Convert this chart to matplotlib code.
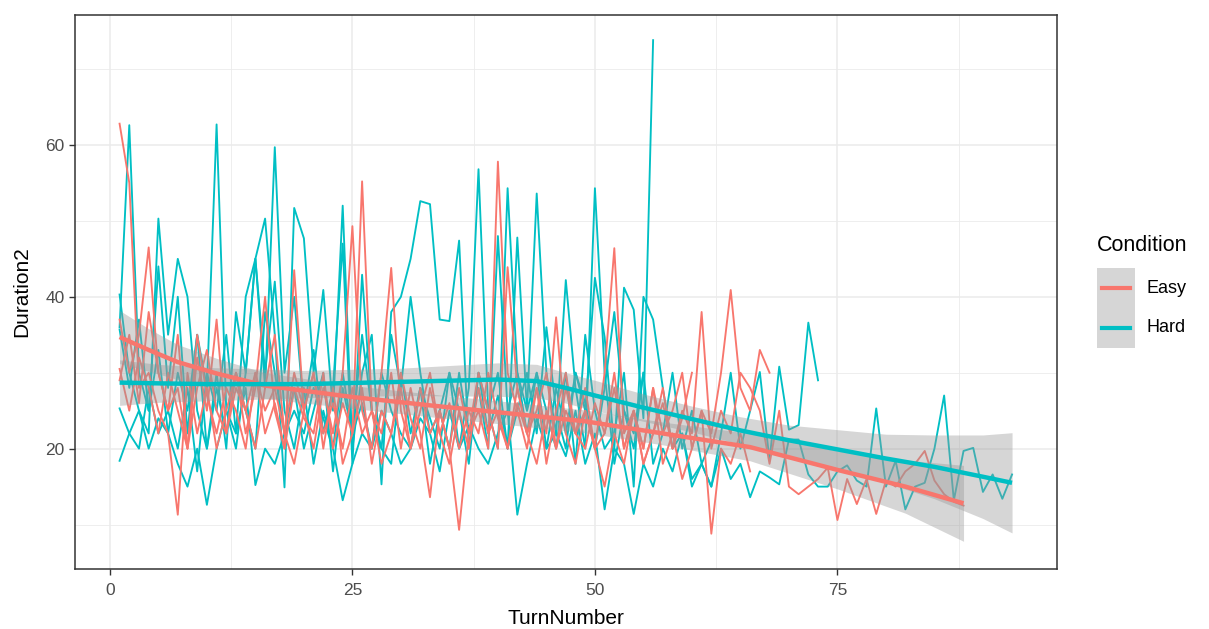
import matplotlib
matplotlib.use("Agg")
import matplotlib.pyplot as plt
import numpy as np

plt.rcParams['font.family'] = ['Liberation Sans', 'DejaVu Sans']

EASY = '#F8766D'
HARD = '#00BFC4'

# per-participant durations, turn number starts at 1
hard_1 = [36, 62.6, 30, 25, 44, 28, 40, 22, 35, 28, 62.7, 25, 20, 30, 45, 28, 59.7, 30, 40, 25,
          33, 22, 28, 47, 18, 42.9, 25, 20, 35, 28, 40, 30, 22, 25, 30, 20, 28, 56.8, 25, 30,
          20, 47.8, 25, 30, 20, 28, 22, 30, 25, 42.5, 34.7, 20, 41.2, 38.3, 24, 73.8]
hard_2 = [40.3, 30, 25, 22, 50.3, 35, 45, 40, 25, 20, 30, 20, 38, 30, 45, 50.3, 35, 14.9, 51.7, 47.7,
          30, 40.9, 25, 52, 20, 30, 35, 15.3, 38, 40, 45, 52.6, 52.2, 37, 36.8, 47.4, 20, 30, 25, 20,
          54.3, 30, 25, 53.6, 30, 22, 42.2, 28, 20, 54.3, 30, 18, 25, 20, 30, 18, 22, 30, 20, 25,
          18, 15, 22, 30, 20, 25, 30.1, 18.4, 30.8, 22.5, 23.1, 36.6, 29]
hard_3 = [18.4, 22, 25, 20, 24, 22, 18, 15, 20, 12.6, 20, 25, 22, 28, 15.2, 20, 18, 22, 25, 22,
          28, 24, 20, 13.2, 18, 22, 20, 25, 22, 18, 20, 24, 22, 17, 25, 20, 23, 20, 18, 22,
          25, 11.3, 18, 24, 20, 22, 19, 25, 18, 22, 12, 20, 18, 11.4, 18, 15, 20, 17, 22, 16,
          18, 15, 20, 16, 18, 13.6, 17, 16.2, 15.3, 21.2, 21.2, 16.6, 15, 15, 17, 17.8, 15.8, 15, 25.3, 15,
          18.4, 12, 15, 15.5, 20, 27, 13.2, 19.7, 20.1, 14.3, 16.6, 13.4, 16.6]
hard_4 = [25.3, 22, 20, 28, 22, 25, 20, 28, 17, 30, 25, 35, 22, 40, 45, 30, 42, 25, 20, 28,
          18, 25, 20, 30, 22, 35, 25, 20, 18, 30, 22, 28, 18, 25, 20, 30, 22, 28, 20, 48,
          25, 30, 22, 30, 25, 20, 30, 18, 35, 25, 20, 22, 30, 15, 40, 37, 28, 20, 22, 15,
          18, 21]
hard_5 = [35.7, 28, 37, 25, 33, 22, 30, 25, 35, 20, 28, 22, 30, 25, 20, 38, 30, 22, 28, 20,
          25, 30, 17, 28, 22, 26, 20, 30, 25, 22, 20, 28, 24, 20, 30, 25, 18, 30, 22, 27,
          20, 25, 30, 22, 36, 25, 20, 30, 26, 20, 28, 38, 25, 22, 30]

easy_1 = [62.8, 55, 28, 30, 25, 22, 11.3, 30, 22, 28, 20, 25, 30, 22, 28, 40, 25, 20, 43.5, 25,
          30, 20, 28, 18, 22, 55.2, 25, 22, 30, 20, 28, 22, 13.6, 25, 20, 28, 22, 25, 20, 57.8,
          30, 25, 20, 28, 22, 37.3, 22, 18, 25, 20, 22, 30, 20, 25, 18, 22, 28, 20, 25, 22,
          38, 20, 25, 22, 30, 28, 25, 18, 25, 15, 14, 15, 16, 17.5, 10.6, 16, 12.7, 16, 11.4, 15.8,
          15, 17, 18, 19.7, 15.8, 14, 13, 12.5]
easy_2 = [37, 30, 35, 46.5, 30, 25, 35, 20, 28, 33, 25, 22, 30, 25, 20, 28, 35, 22, 30, 25,
          20, 28, 22, 30, 49.3, 25, 20, 30, 43.8, 25, 20, 28, 22, 25, 20, 9.3, 22, 30, 25, 20,
          43.9, 28, 22, 25, 30, 20, 25, 22, 28, 20, 30, 46.4, 22, 25, 20, 28, 22, 25, 30, 20,
          25, 22, 30, 40.9, 28, 25, 33, 30]
easy_3 = [30.5, 25, 32, 28, 22, 30, 25, 20, 35, 27, 22, 28, 25, 20, 30, 25, 28, 22, 18, 25,
          30, 22, 26, 20, 28, 22, 25, 18, 22, 28, 20, 25, 30, 22, 18, 25, 20, 28, 22, 25,
          20, 28, 22, 18, 25, 20, 28, 22, 25, 20, 15, 22, 18, 25, 20, 28, 18, 22, 16, 20,
          25, 8.8, 20, 18, 22, 17]
easy_4 = [29, 35, 26, 38, 30, 25, 28, 20, 32, 25, 37, 22, 28, 25, 30, 22, 26, 20, 28, 24,
          22, 30, 20, 26, 22, 28, 18, 25, 22, 30, 24, 20, 28, 22, 26, 20, 25, 22, 30, 24,
          20, 26, 22, 28, 18, 25, 30, 22, 20, 26, 22, 28, 20, 25, 18, 22, 26, 20, 24, 30]

hard_series = [hard_1, hard_2, hard_3, hard_4, hard_5]
easy_series = [easy_1, easy_2, easy_3, easy_4]

# smoothed trends with confidence half-widths
hard_fit_x = [1, 5, 10, 20, 30, 40, 44, 47, 50, 55, 60, 65, 70, 75, 80, 85, 90, 93]
hard_fit_y = [28.7, 28.6, 28.5, 28.5, 28.8, 29.1, 28.9, 28.0, 27.0, 25.4, 23.9, 22.4, 21.1, 19.9, 18.7, 17.6, 16.3, 15.5]
hard_fit_se = [3.0, 2.5, 2.2, 1.8, 1.8, 2.2, 2.2, 2.0, 2.0, 1.8, 1.7, 1.8, 2.0, 2.6, 3.2, 4.2, 5.5, 6.6]
easy_fit_x = [1, 4, 7, 11, 16, 25, 33, 40, 49, 57, 66, 75, 82, 88]
easy_fit_y = [34.7, 33.0, 31.4, 29.9, 28.3, 26.8, 25.7, 24.8, 23.6, 22.0, 20.2, 17.2, 15.0, 12.8]
easy_fit_se = [3.5, 2.8, 2.3, 2.0, 1.7, 1.5, 1.5, 1.5, 1.5, 1.5, 1.8, 2.5, 3.5, 5.0]

fig = plt.figure(figsize=(12.09, 6.29), dpi=100)
ax = fig.add_axes([0.062, 0.096, 0.812, 0.880])

for s in hard_series + easy_series:
    col = HARD if s in hard_series else EASY
    ax.plot(np.arange(1, len(s) + 1), s, color=col, lw=1.35, zorder=2)

for fx, fy, se, col in [(easy_fit_x, easy_fit_y, easy_fit_se, EASY),
                        (hard_fit_x, hard_fit_y, hard_fit_se, HARD)]:
    fy = np.array(fy)
    se = np.array(se)
    ax.fill_between(fx, fy - se, fy + se, color='#999999', alpha=0.4, lw=0, zorder=3)
    ax.plot(fx, fy, color=col, lw=3.2, zorder=4, solid_capstyle='butt')

ax.set_xlim(-3.6, 97.6)
ax.set_ylim(4.2, 77.1)
ax.set_xticks([0, 25, 50, 75])
ax.set_yticks([20, 40, 60])
ax.set_xticks([12.5, 37.5, 62.5, 87.5], minor=True)
ax.set_yticks([10, 30, 50, 70], minor=True)
ax.grid(which='major', color='#EBEBEB', lw=1.1)
ax.grid(which='minor', color='#EBEBEB', lw=0.6)
ax.set_axisbelow(True)
ax.tick_params(which='minor', length=0)
ax.tick_params(which='major', length=4, color='#333333', labelsize=12.5, labelcolor='#4D4D4D', width=1)
ax.tick_params(axis='x', pad=6.5)
for sp in ax.spines.values():
    sp.set_color('#333333')
    sp.set_linewidth(1.1)
ax.set_xlabel('TurnNumber', fontsize=15, labelpad=8)
ax.set_ylabel('Duration2', fontsize=15, labelpad=10)

# legend drawn by hand, ggplot style
fig.text(1097 / 1209, 1 - 246 / 629, 'Condition', fontsize=15.5, va='center', ha='left')
lax = fig.add_axes([1097 / 1209, 1 - 348 / 629, 38 / 1209, 80 / 629])
lax.set_xlim(0, 1)
lax.set_ylim(0, 2)
lax.axis('off')
lax.add_patch(plt.Rectangle((0, 0), 1, 2, color='#999999', alpha=0.4, lw=0))
lax.plot([0.12, 0.88], [1.5, 1.5], color=EASY, lw=3)
lax.plot([0.12, 0.88], [0.5, 0.5], color=HARD, lw=3)
fig.text(1147 / 1209, 1 - 288 / 629, 'Easy', fontsize=13, va='center', ha='left')
fig.text(1147 / 1209, 1 - 328 / 629, 'Hard', fontsize=13, va='center', ha='left')

fig.savefig('out.png', dpi=100)
